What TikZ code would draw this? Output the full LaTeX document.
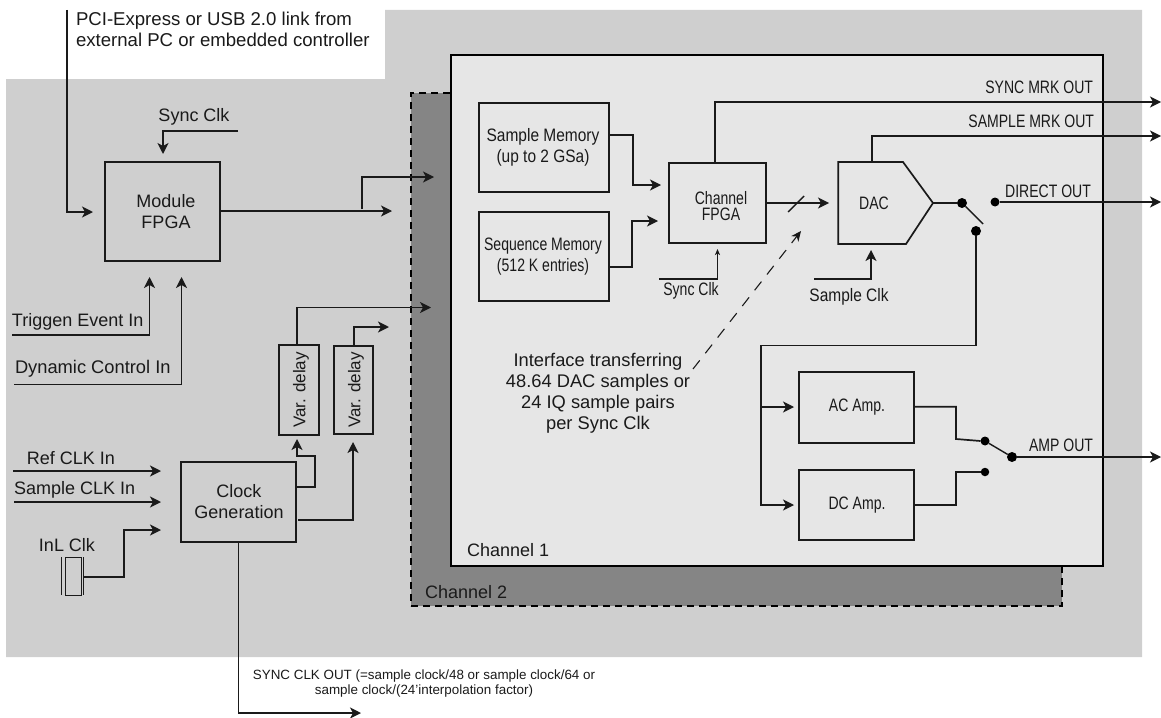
\documentclass[tikz,border=0pt]{standalone}
\usepackage{fontspec}
\setmainfont{Liberation Sans}
\newfontfamily\narf[FakeStretch=0.78]{Liberation Sans}
\newfontfamily\narg[FakeStretch=0.86]{Liberation Sans}
\usetikzlibrary{arrows.meta}
\definecolor{panel}{HTML}{CFCFCF}
\definecolor{chtwo}{HTML}{858585}
\definecolor{chone}{HTML}{E6E6E6}
\definecolor{ink}{HTML}{1A1A1A}
\tikzset{
  x=1pt,y=-1pt,
  boxn/.style={draw=ink,line width=1.4pt,inner sep=0pt,outer sep=0pt,align=center},
  wire/.style={draw=ink,line width=1.4pt,line join=miter},
  arr/.style={wire,-{Stealth[length=11pt,width=11pt,inset=3pt]}},
  smallarr/.style={wire,-{Stealth[length=6pt,width=5pt,inset=1.5pt]}},
  txt/.style={inner sep=0pt,outer sep=0pt,text=ink,align=center,font=\fontsize{18}{21}\selectfont},
  ntxt/.style={inner sep=0pt,outer sep=0pt,text=ink,align=center,font=\narf\fontsize{18}{21}\selectfont},
  gtxt/.style={inner sep=0pt,outer sep=0pt,text=ink,align=center,font=\narg\fontsize{18}{21}\selectfont},
  tinytxt/.style={inner sep=0pt,outer sep=0pt,text=ink,align=center,font=\fontsize{13.4}{15}\selectfont},
  dotn/.style={circle,fill=black,inner sep=0pt,outer sep=0pt,minimum size=#1},
}
\begin{document}
\begin{tikzpicture}
\useasboundingbox (0,0) rectangle (1161,717);
% backgrounds
\fill[panel] (6,79) -- (385,79) -- (385,10) -- (1142,10) -- (1142,657) -- (6,657) -- cycle;
\node[draw=black,fill=chtwo,line width=2pt,dash pattern=on 7pt off 5pt,inner sep=0,outer sep=0,minimum width=651pt,minimum height=513pt] (ch2) at (736.5,349.5) {};
\node[draw=black,fill=chone,line width=2pt,inner sep=0,outer sep=0,minimum width=652pt,minimum height=511pt] (ch1) at (451+326,55+255.5) {};
\node[txt,anchor=west] (ch1l) at (467,550) {Channel 1};
\node[txt,anchor=west] (ch2l) at (425,592) {Channel 2};

% blocks, left
\node[boxn,minimum width=115pt,minimum height=99pt] (mf) at (162.5,211.5) {};
\node[txt] (mfl) at (166,212) {Module\\FPGA};
\node[boxn,minimum width=115pt,minimum height=80pt] (cg) at (238.5,502) {};
\node[txt] (cgl) at (239,502) {Clock\\Generation};
\node[boxn,minimum width=40pt,minimum height=90pt] (vd1) at (299,390) {};
\node[txt,rotate=90,font=\fontsize{17}{21}\selectfont] (vd1l) at (301,390) {Var. delay};
\node[boxn,minimum width=39pt,minimum height=88pt] (vd2) at (353.5,390) {};
\node[txt,rotate=90,font=\fontsize{17}{21}\selectfont] (vd2l) at (356,390) {Var. delay};
\node[boxn,line width=.9pt,minimum width=16pt,minimum height=38pt] (xt) at (73,576) {};
\coordinate (xa) at (61.5,557);\coordinate (xb) at (61.5,595);
\coordinate (xc) at (83,557);\coordinate (xd) at (83,595);
\draw[wire,line width=.9pt] (xa) -- (xb);
\draw[wire,line width=.9pt] (xc) -- (xd);

% blocks, channel 1
\node[boxn,minimum width=130pt,minimum height=89pt] (sm) at (544,147.5) {};
\node[gtxt] (sml) at (543,147.5) {Sample Memory\\(up to 2 GSa)};
\node[boxn,minimum width=130pt,minimum height=89pt] (qm) at (544,256.5) {};
\node[ntxt] (qml) at (543,256.5) {Sequence Memory\\(512 K entries)};
\node[boxn,minimum width=97pt,minimum height=80pt] (cf) at (717.5,203) {};
\node[ntxt,font=\narf\fontsize{18}{16}\selectfont] (cfl) at (721,206) {Channel\\FPGA};
\draw[wire,line width=1.7pt] (838.2,162) -- (903,162) -- (933,203) -- (906,244) -- (838.2,244) -- cycle;
\coordinate (dacin) at (838.5,203);
\coordinate (dacout) at (933,203);
\coordinate (dactop) at (872,162);
\node[ntxt] (dacl) at (874,203) {DAC};
\node[boxn,minimum width=115pt,minimum height=71pt] (ac) at (856.5,407.5) {};
\node[ntxt] (acl) at (857,407) {AC Amp.};
\node[boxn,minimum width=115pt,minimum height=70pt] (dc) at (856.5,505) {};
\node[ntxt] (dcl) at (857,505) {DC Amp.};

% switch dots
\node[dotn=10pt] (s1) at (962,203) {};
\node[dotn=10pt] (s2) at (976,231) {};
\node[dotn=9pt] (s3) at (995,202) {};
\node[dotn=9pt] (s4) at (985,441) {};
\node[dotn=8.5pt] (s5) at (985,472) {};
\node[dotn=10pt] (s6) at (1012,457) {};

% free connector ends
\coordinate (pcitop) at (67,10);
\coordinate (mfin) at (93,212);
\coordinate (scs) at (238,131);
\coordinate (sct) at (163,154);
\coordinate (mfo) at (392,211);
\coordinate (mfb) at (362,209);
\coordinate (mfo2) at (434,177);
\coordinate (trs) at (12,335);
\coordinate (trt) at (149.5,277);
\coordinate (dys) at (14,384.5);
\coordinate (dyt) at (181.5,277);
\coordinate (v1o) at (431,307.5);
\coordinate (v2o) at (389,327);
\coordinate (v1in) at (297,439);
\coordinate (v2in) at (353,442);
\coordinate (rfs) at (13,471);
\coordinate (rft) at (161,471);
\coordinate (sps) at (14,502);
\coordinate (spt) at (161,502);
\coordinate (xtt) at (161,530);
\coordinate (syt) at (361,713);
\coordinate (out1) at (1161,102);
\coordinate (out2) at (1161,136);
\coordinate (out3) at (1161,202);
\coordinate (out4) at (1161,457);
\coordinate (sm2) at (661,185);
\coordinate (qm2) at (658,221);
\coordinate (ics) at (659,279);
\coordinate (ict) at (717.5,249);
\coordinate (scks) at (814,279);
\coordinate (sckt) at (871,250);
\coordinate (cft) at (829,203);
\coordinate (sla) at (788,212);
\coordinate (slb) at (804,196);
\coordinate (das) at (693,369);
\coordinate (dat) at (801,231);
\coordinate (acs) at (794,407);
\coordinate (dcs) at (794,505);
\coordinate (swe) at (983,224);
\coordinate (busx) at (761,407);

% connectors, left
\draw[arr] (pcitop) |- (mfin);
\draw[arr] (scs) -| (sct);
\draw[arr] ([yshift=.5pt]mf.east) -- (mfo);
\draw[arr] (mfb) |- (mfo2);
\draw[arr] (trs) -| (trt);
\draw[arr] (dys) -| (dyt);
\draw[arr] (vd1.north -| v1in) |- (v1o);
\draw[arr,line width=2pt] (vd2.north) |- (v2o);
\draw[arr] ([yshift=15pt]cg.east) -| (315,456) -| (v1in);
\draw[arr] ([xshift=2pt,yshift=-18pt]cg.east) -| (v2in);
\draw[arr] (rfs) -- (rft);
\draw[arr] (sps) -- (spt);
\draw[arr] (xd -| xc) ++(0,-18) -| (124,530) -- (xtt);
\draw[arr] (cg.south) |- (syt);

% connectors, channel
\draw[arr] (sm.east |- 0,135) -| (633,160) |- (sm2);
\draw[arr] (qm.east |- 0,267) -| (632,221) -- (qm2);
\draw[smallarr] (ics) -| (ict);
\draw[arr] (scks) -| (sckt);
\draw[arr] (cf.east) -- (cft);
\draw[wire] (sla) -- (slb);
\draw[wire,dash pattern=on 11pt off 9pt,line width=1.1pt,-{Stealth[length=10pt,width=9pt,inset=3pt]}] (das) -- (dat);
\draw[arr] (cf.north -| 715,0) |- (out1);
\draw[arr] (dactop) |- (out2);
\draw[wire] (dacout) -- (s1);
\draw[wire] (s1) -- (swe);
\draw[arr] (s3) -- (out3);
\draw[wire] (s2) |- (761,345.5) -- (busx);
\draw[arr] (busx) -- (acs);
\draw[arr] (busx) |- (dcs);
\draw[wire,line width=1.7pt] ([yshift=.8pt]ac.east) -| (956,439) -- (s4.west);
\draw[wire] (dc.east) -| (956,472) -- (s5.west);
\draw[wire] (s4) -- (s6);
\draw[arr] (s6) -- (out4);

% labels
\node[txt,anchor=north west,align=left,font=\fontsize{18.6}{21}\selectfont] (pci) at (76,12) {PCI-Express or USB 2.0 link from\\external PC or embedded controller};
\node[txt] (scl) at (194,116.5) {Sync Clk};
\node[txt,anchor=west] (trl) at (12,321.5) {Triggen Event In};
\node[txt,anchor=west,font=\fontsize{18.3}{21}\selectfont] (dyl) at (15,369) {Dynamic Control In};
\node[txt] (rfl) at (71,458) {Ref CLK In};
\node[txt,anchor=west] (spl) at (14,490) {Sample CLK In};
\node[txt] (inl) at (67,545) {InL Clk};
\node[tinytxt] (syl) at (424,683.5) {SYNC CLK OUT (=sample clock/48 or sample clock/64 or\\sample clock/(24'interpolation factor)};
\node[txt,font=\fontsize{18.3}{21}\selectfont] (ifl) at (598,393) {Interface transferring\\48.64 DAC samples or\\24 IQ sample pairs\\per Sync Clk};
\node[ntxt] (ics2) at (691,291) {Sync Clk};
\node[gtxt] (skl) at (849,296.5) {Sample Clk};
\node[ntxt,anchor=east] (mk1) at (1093,87) {SYNC MRK OUT};
\node[ntxt,anchor=east] (mk2) at (1094,121) {SAMPLE MRK OUT};
\node[ntxt] (dol) at (1048,191) {DIRECT OUT};
\node[ntxt] (aol) at (1061,445) {AMP OUT};
\end{tikzpicture}
\end{document}
